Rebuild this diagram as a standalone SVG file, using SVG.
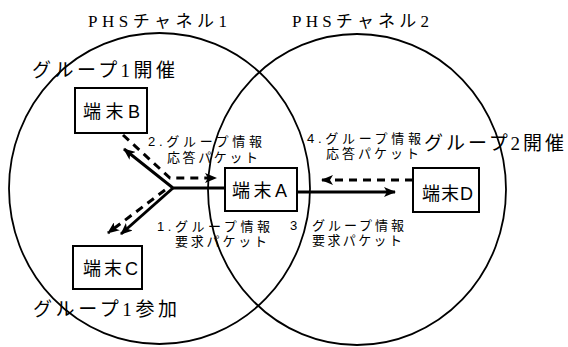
<svg xmlns="http://www.w3.org/2000/svg" width="568" height="347" viewBox="0 0 568 347">
<defs>
<marker id="ah" viewBox="0 0 12 10" refX="11" refY="5" markerWidth="12" markerHeight="10" markerUnits="userSpaceOnUse" orient="auto">
<path d="M0,0 L12,5 L0,10 L3,5 Z" fill="#000"/>
</marker>
</defs>
<style>
.ring{fill:none;stroke:#000;stroke-width:1.8}
.box{fill:#fff;stroke:#000;stroke-width:2}
.t{font-family:"Liberation Serif","Noto Sans CJK JP",serif;fill:#000}
.big{font-size:19px}
.node{font-size:18px;font-family:"Liberation Sans","Noto Sans CJK JP",sans-serif}
.lab{font-size:13px;font-family:"Liberation Sans","Noto Sans CJK JP",sans-serif}
.sol{fill:none;stroke:#000;stroke-width:3}
.dash{fill:none;stroke:#000;stroke-width:3;stroke-dasharray:8,6}
</style>
<rect width="568" height="347" fill="#fff"/>
<g id="channels">
<ellipse class="ring" cx="159.5" cy="188.5" rx="150.5" ry="155.5"/>
<ellipse class="ring" cx="357" cy="189.5" rx="149" ry="155.5"/>
<text class="t" x="88" y="27" font-size="17" textLength="139" lengthAdjust="spacing">PHSチャネル1</text>
<text class="t" x="292" y="27" font-size="17" textLength="137" lengthAdjust="spacing">PHSチャネル2</text>
</g>
<g id="connectors">
<polyline class="sol" points="225,188 173,188 124,149" marker-end="url(#ah)"/>
<line class="sol" x1="173" y1="188" x2="121" y2="234" marker-end="url(#ah)"/>
<polyline class="dash" points="123,135 170,178 216,178" marker-end="url(#ah)"/>
<line class="dash" x1="165" y1="190" x2="108" y2="233" marker-end="url(#ah)"/>
<line class="dash" x1="413" y1="180" x2="322" y2="180" marker-end="url(#ah)"/>
<line class="sol" x1="297" y1="192" x2="395" y2="192" marker-end="url(#ah)"/>
</g>
<g id="nodeB">
<rect class="box" x="75" y="88" width="72" height="45"/>
<text class="t node" x="83" y="118" textLength="57" lengthAdjust="spacing">端末B</text>
</g>
<g id="nodeA">
<rect class="box" x="225" y="168" width="72" height="43"/>
<text class="t node" x="232" y="197" textLength="55" lengthAdjust="spacing">端末A</text>
</g>
<g id="nodeD">
<rect class="box" x="413" y="168" width="66" height="44"/>
<text class="t node" x="422" y="200" textLength="51" lengthAdjust="spacing">端末D</text>
</g>
<g id="nodeC">
<rect class="box" x="73" y="246" width="69" height="43"/>
<text class="t node" x="83" y="275" textLength="55" lengthAdjust="spacing">端末C</text>
</g>
<g id="labels">
<text class="t big" x="32" y="77" textLength="143" lengthAdjust="spacing">グループ1開催</text>
<text class="t big" x="424" y="150" textLength="140" lengthAdjust="spacing">グループ2開催</text>
<text class="t big" x="33" y="316" textLength="144" lengthAdjust="spacing">グループ1参加</text>
<text class="t lab" x="148" y="146" textLength="114" lengthAdjust="spacing">2.グループ情報</text>
<text class="t lab" x="167" y="162" textLength="91" lengthAdjust="spacing">応答パケット</text>
<text class="t lab" x="307" y="143" textLength="114" lengthAdjust="spacing">4.グループ情報</text>
<text class="t lab" x="326" y="158" textLength="93" lengthAdjust="spacing">応答パケット</text>
<text class="t lab" x="157" y="231" textLength="113" lengthAdjust="spacing">1.グループ情報</text>
<text class="t lab" x="175" y="246" textLength="92" lengthAdjust="spacing">要求パケット</text>
<text class="t lab" x="290" y="230">3</text>
<text class="t lab" x="312" y="230" textLength="92" lengthAdjust="spacing">グループ情報</text>
<text class="t lab" x="312" y="245" textLength="90" lengthAdjust="spacing">要求パケット</text>
</g>
</svg>
